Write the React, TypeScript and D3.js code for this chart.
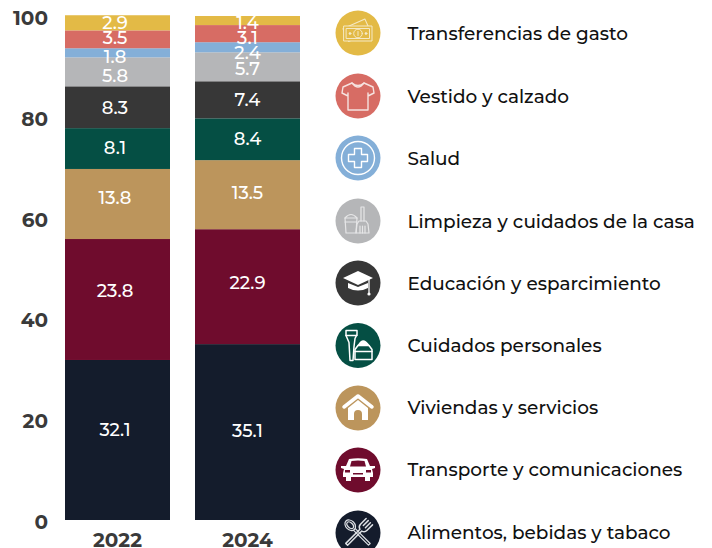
import React from "react";
import * as d3 from "d3";

const years = ["2022", "2024"];
const categories = [
  "Alimentos, bebidas y tabaco",
  "Transporte y comunicaciones",
  "Viviendas y servicios",
  "Cuidados personales",
  "Educación y esparcimiento",
  "Limpieza y cuidados de la casa",
  "Salud",
  "Vestido y calzado",
  "Transferencias de gasto",
];
// bar shares as they are drawn in the picture
const shares2022 = [31.75, 24.0, 13.9, 8.1, 8.3, 5.75, 1.8, 3.55, 3.0];
const shares2024 = [34.9, 22.8, 13.7, 8.3, 7.35, 5.75, 2.0, 3.4, 1.8];
// the numbers printed on the bars
const labels2022 = ["32.1", "23.8", "13.8", "8.1", "8.3", "5.8", "1.8", "3.5", "2.9"];
const labels2024 = ["35.1", "22.9", "13.5", "8.4", "7.4", "5.7", "2.4", "3.1", "1.4"];
const colors = ["#141C2C", "#6F0C2D", "#BC955C", "#054F44", "#373737", "#B5B6B8", "#84AFD8", "#D76C64", "#E3BA46"];
const yTicks = [0, 20, 40, 60, 80, 100];

const FONT = "Montserrat, Inter, 'Noto Sans', sans-serif";
const W = 712, H = 548;

// label nudges from the segment centre (px), layout only
const nudges: number[][] = [
  [-10, -8.5, -6, -0.5, 0.5, 4.5, 4, -1.5, 0.5],
  [-1, -3.5, -1.5, 0, 0.5, 2, 6, 4, 2.5],
];
const labelShift = [-2.5, 0];
const legendY = [532, 469, 407, 344.5, 282, 220, 157, 95, 32];
const legendTextY = [532.7, 469.7, 407.7, 345.2, 283.3, 221.5, 158.5, 96.5, 33.5];

const Icon = ({ i }: { i: number }) => {
  const s = { fill: "none", stroke: "#fff", strokeWidth: 1.1, strokeLinejoin: "round" as const, strokeLinecap: "round" as const };
  const f = { fill: "#fff", stroke: "none" };
  switch (i) {
    case 0:
      return (
        <g {...s} stroke="#DDE0E4" strokeWidth={1.2}>
          <g transform="rotate(-45)">
            <ellipse cx={0} cy={-11} rx={4.5} ry={6} />
            <ellipse cx={0} cy={-11} rx={2.5} ry={4} />
            <path d="M-1.2 -5 L-1.2 16 L1.2 16 L1.2 -5" />
          </g>
          <g transform="rotate(45)">
            <path d="M-4.5 -16 L-4.5 -8 Q-4.5 -5 -1.3 -4 L-1.3 16 L1.3 16 L1.3 -4 Q4.5 -5 4.5 -8 L4.5 -16 M-1.5 -16 L-1.5 -9 M1.5 -16 L1.5 -9" strokeWidth={1.5} />
          </g>
        </g>
      );
    case 1:
      return (
        <g>
          <path {...f} d="M-17 -4 L-12 -4 L-9 -11 Q0 -12.5 9 -11 L12 -4 L17 -4 L17 -2 L14 -1 L15 3 L15 7 L12 7 L12 11 L7 11 L7 7 L-7 7 L-7 11 L-12 11 L-12 7 L-15 7 L-15 3 L-14 -1 L-17 -2Z" />
          <path d="M-8 -3.5 L-6.5 -9 Q0 -10 6.5 -9 L8 -3.5Z" fill="#6F0C2D" />
          <rect x={-13} y={0} width={5} height={2.5} fill="#6F0C2D" />
          <rect x={8} y={0} width={5} height={2.5} fill="#6F0C2D" />
          <rect x={-5} y={3} width={10} height={1.5} fill="#6F0C2D" />
        </g>
      );
    case 2:
      return (
        <g>
          <path d="M-14 -1 L0 -12 L14 -1" fill="none" stroke="#fff" strokeWidth={3.5} strokeLinecap="round" strokeLinejoin="round" />
          <path {...f} fillRule="evenodd" d="M-10 0 L0 -8 L10 0 L10 12 L4 12 L4 6 A4 4 0 0 0 -4 6 L-4 12 L-10 12Z" />
        </g>
      );
    case 3:
      return (
        <g {...s} strokeWidth={1.5}>
          <path d="M-12 -15 L-1 -15 L-1 -11 L-3 -7 L-4 1 L-5 15 L-8 15 L-9 -3 L-12 -10Z" />
          <path d="M-12 -10 L-1 -10" />
          <path d="M-3 14 L-3 4 L0 0 Q5 -6 11 0 L14 4 L14 14Z" />
          <path d="M0 0 L11 0 M-3 6 L14 6" />
          <path d="M1 -1 Q5 -8 10 -1Z" fill="#fff" />
        </g>
      );
    case 4:
      return (
        <g>
          <path {...f} d="M0 -12 L15 -5 L0 2 L-15 -5Z" />
          <path {...f} d="M-10 0 L0 4 L10 0 L10 5 Q0 10 -10 5Z" />
          <path d="M11 -4 L11 10" stroke="#fff" strokeWidth={1.3} />
          <circle cx={11} cy={11} r={1.6} fill="#fff" />
        </g>
      );
    case 5:
      return (
        <g {...s} stroke="#E6E6E7" strokeWidth={1.2}>
          <path d="M-13 -3 L-1 -3 L-2 12 L-12 12Z" />
          <path d="M-13 1 L-1 1" />
          <path d="M-13 -3 Q-7 -10 -1 -3" />
          <path d="M3 -14 L3 0 M6 -14 L6 0 M3 -14 L6 -14" />
          <path d="M1 0 L8 0 L10 3 L11 12 L-2 12 L-1 3Z" />
          <path d="M2 5 L2 12 M4.5 5 L4.5 12 M7 5 L7 12" />
        </g>
      );
    case 6:
      return (
        <g {...s} strokeWidth={1.4}>
          <circle r={16.5} />
          <path d="M-3.5 -9.5 L3.5 -9.5 L3.5 -3.5 L9.5 -3.5 L9.5 3.5 L3.5 3.5 L3.5 9.5 L-3.5 9.5 L-3.5 3.5 L-9.5 3.5 L-9.5 -3.5 L-3.5 -3.5Z" />
        </g>
      );
    case 7:
      return (
        <g {...s} stroke="#F6E2DF" strokeWidth={1.4}>
          <path d="M-6 -13 Q0 -8 6 -13 L15 -9 L16 -3 L10 0 L10 -3 L10 14 L-10 14 L-10 -3 L-10 0 L-16 -3 L-15 -9Z" />
          <path d="M-6 -13 Q0 -5 6 -13" />
        </g>
      );
    default:
      return (
        <g {...s} stroke="#F5E9C4" strokeWidth={1}>
          <g transform="rotate(-24)">
            <rect x={-12} y={-10} width={24} height={14} />
          </g>
          <rect x={-14} y={-7} width={28} height={15} fill="#E3BA46" />
          <rect x={-11.5} y={-4.5} width={23} height={10} />
          <circle cy={0.5} r={4.3} />
          <path d="M0 -1.5 L0 2.5" />
          <circle cx={-8} cy={0.5} r={0.9} fill="#fff" />
          <circle cx={8} cy={0.5} r={0.9} fill="#fff" />
        </g>
      );
  }
};

export default function App() {
  const y = d3.scaleLinear().domain([0, 100]).range([520, 16]);
  const x = d3.scaleBand<string>().domain(years).range([52.5, 312.5]).paddingInner(25 / 130).paddingOuter(12.5 / 130);
  const stack = d3.stack<number[]>().keys(d3.range(categories.length) as any).value((d: any, k: any) => d[k]);
  const series = stack([shares2022, shares2024] as any);
  const labelRows = [labels2022, labels2024];

  return (
    <svg width={W} height={H} viewBox={`0 0 ${W} ${H}`} style={{ position: "absolute", left: 0, top: 0 }} fontFamily={FONT}>
      {yTicks.map((t) => (
        <text key={t} x={48} y={y(t) + 2} textAnchor="end" dominantBaseline="central" fontSize={20} fontWeight={700} fill="#3A3A3A">
          {t}
        </text>
      ))}
      {series.map((s, k) => (
        <g key={k}>
          {s.map((d, j) => (
            <rect key={years[j]} x={x(years[j])} y={y(d[1])} width={x.bandwidth()} height={y(d[0]) - y(d[1])} fill={colors[k]} />
          ))}
        </g>
      ))}
      {series.map((s, k) => (
        <g key={k}>
          {s.map((d, j) => (
            <text key={years[j]} x={x(years[j])! + x.bandwidth() / 2 + labelShift[j]} y={(y(d[0]) + y(d[1])) / 2 + nudges[j][k]} textAnchor="middle" dominantBaseline="central" fontSize={18} fontWeight={500} fill="#fff">
              {labelRows[j][k]}
            </text>
          ))}
        </g>
      ))}
      {years.map((yr) => (
        <text key={yr} x={x(yr)! + x.bandwidth() / 2} y={540} textAnchor="middle" dominantBaseline="central" fontSize={20} fontWeight={700} fill="#3A3A3A">
          {yr}
        </text>
      ))}
      {categories.map((c, i) => (
        <g key={c}>
          <g transform={`translate(358,${legendY[i] + 1})`}>
            <circle r={22.5} fill={colors[i]} />
            <Icon i={i} />
          </g>
          <text x={407.5} y={legendTextY[i]} dominantBaseline="central" fontSize={18.45} fontWeight={500} fill="#111">
            {c}
          </text>
        </g>
      ))}
    </svg>
  );
}
